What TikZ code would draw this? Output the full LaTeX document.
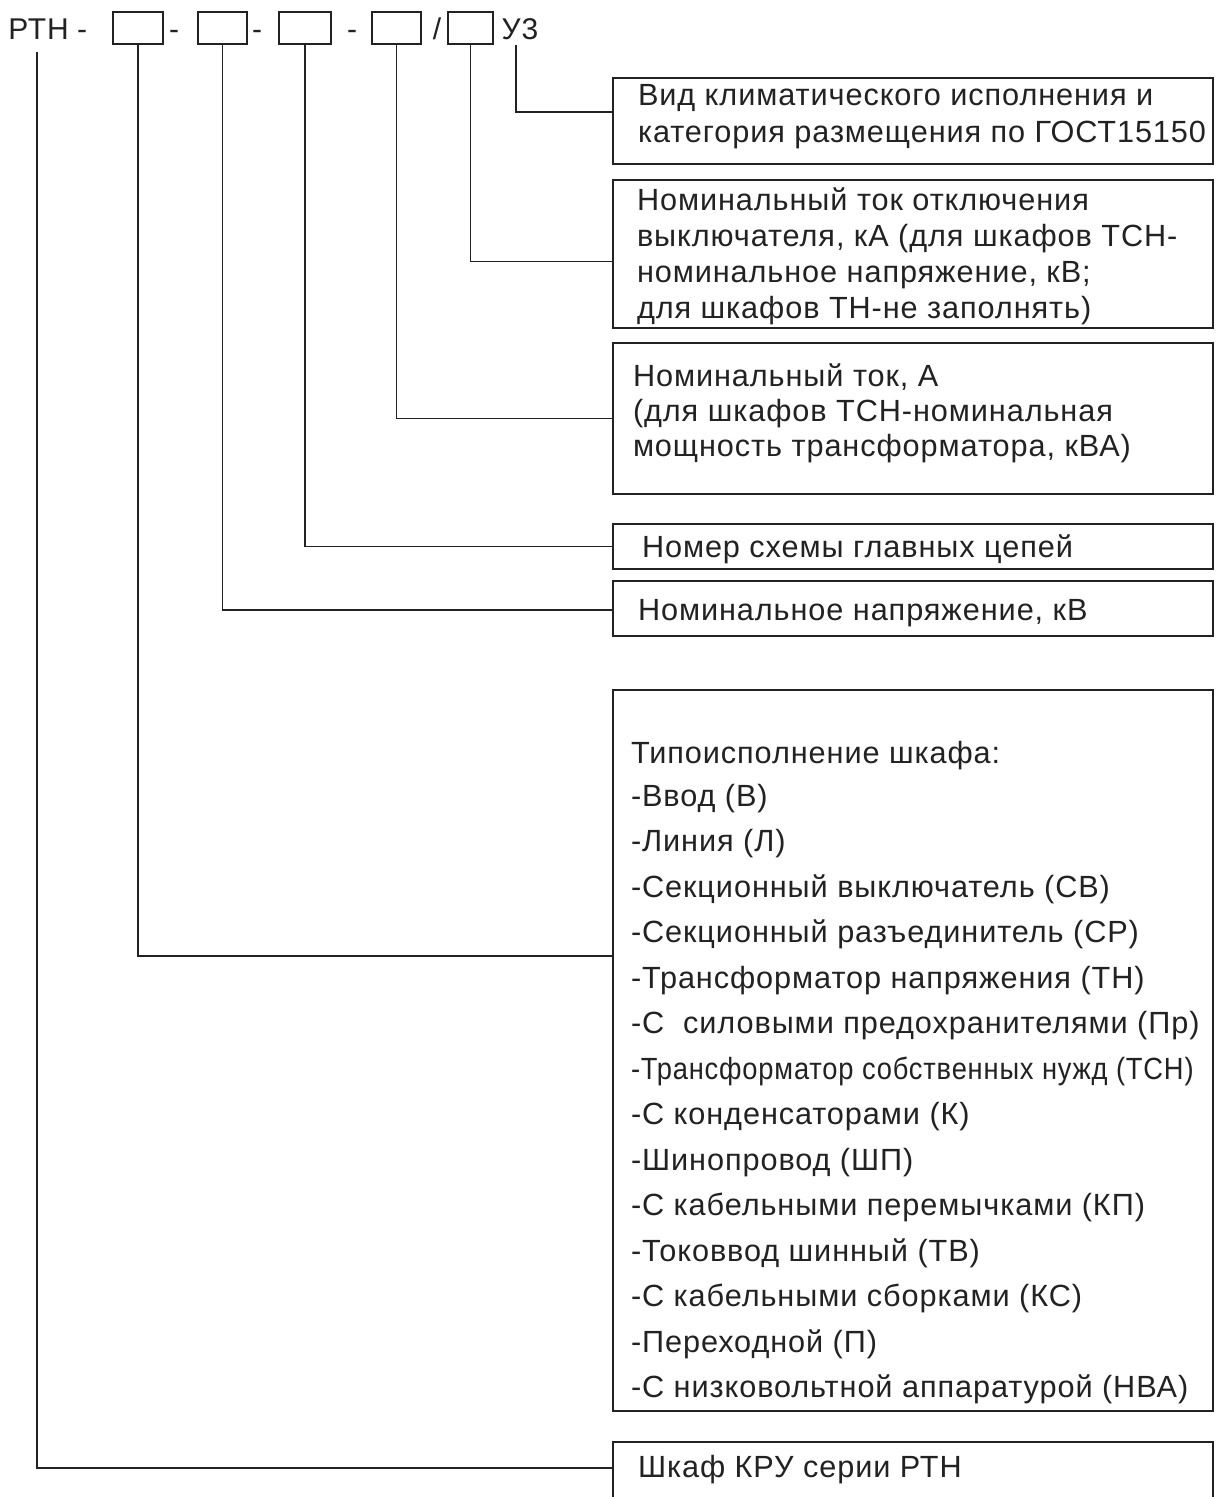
\documentclass[tikz,border=0pt]{standalone}
\usepackage{fontspec}
\usepackage{graphicx}
\setmainfont{Liberation Sans}[LetterSpace=3]
\definecolor{ink}{HTML}{222222}
\begin{document}
\begin{tikzpicture}[x=0.75pt,y=-0.75pt,
  frame/.style={draw=ink, line width=1.3pt, rectangle, inner sep=0pt, outer sep=0pt, anchor=north west, minimum width=450pt},
  hbox/.style={draw=ink, line width=1.3pt, rectangle, inner sep=0pt, outer sep=0pt, anchor=north west, minimum height=24pt},
  txt/.style={inner sep=0pt, outer sep=0pt, anchor=base west, text=ink, font=\fontsize{23pt}{27pt}\selectfont},
  htxt/.style={inner sep=0pt, outer sep=0pt, anchor=base, text=ink, font=\fontsize{22.5pt}{27pt}\selectfont},
  conn/.style={draw=ink, line width=1.3pt}]
\clip (0,0) rectangle (1217,1497);
\fill[white] (0,0) rectangle (1217,1497);

% header
\node[htxt] (rtn) at (38.5,39) {РТН};
\node[htxt] (d1) at (82,39) {-};
\node[hbox, minimum width=37.5pt] (h1) at (113,12) {};
\node[htxt] (d2) at (174,39) {-};
\node[hbox, minimum width=36.75pt] (h2) at (198,12) {};
\node[htxt] (d3) at (257,39) {-};
\node[hbox, minimum width=39pt] (h3) at (279,12) {};
\node[htxt] (d4) at (352,39) {-};
\node[hbox, minimum width=36.75pt] (h4) at (372,12) {};
\node[htxt] (sl) at (437,39) {/};
\node[hbox, minimum width=33.75pt] (h5) at (448,12) {};
\node[htxt] (u3) at (520,39) {У3};

% boxes
\node[frame, minimum height=64.5pt] (b1) at (613,78) {};
\node[frame, minimum height=111pt] (b2) at (613,180) {};
\node[frame, minimum height=113.25pt] (b3) at (613,343) {};
\node[frame, minimum height=33.75pt] (b4) at (613,524) {};
\node[frame, minimum height=41.25pt] (b5) at (613,581) {};
\node[frame, minimum height=540.75pt] (b6) at (613,690) {};
\node[frame, minimum height=58.5pt] (b7) at (613,1442) {};

% texts
\node[txt] (t1a) at (638,105) {Вид климатического исполнения и};
\node[txt] (t1b) at (638,142) {категория размещения по ГОСТ15150};

\node[txt] (t2a) at (637,210) {Номинальный ток отключения};
\node[txt] (t2b) at (637,246) {выключателя, кА (для шкафов ТСН-};
\node[txt] (t2c) at (637,282) {номинальное напряжение, кВ;};
\node[txt] (t2d) at (637,318) {для шкафов ТН-не заполнять)};

\node[txt] (t3a) at (633,386) {Номинальный ток, А};
\node[txt] (t3b) at (633,421) {(для шкафов ТСН-номинальная};
\node[txt] (t3c) at (633,456) {мощность трансформатора, кВА)};

\node[txt] (t4) at (642,557) {Номер схемы главных цепей};
\node[txt] (t5) at (638,620) {Номинальное напряжение, кВ};

\node[txt] (s0) at (631,763) {Типоисполнение шкафа:};
\node[txt] (s1) at (631,806) {-Ввод (В)};
\node[txt] (s2) at (631,851.5) {-Линия (Л)};
\node[txt] (s3) at (631,897) {-Секционный выключатель (СВ)};
\node[txt] (s4) at (631,942.5) {-Секционный разъединитель (СР)};
\node[txt] (s5) at (631,988) {-Трансформатор напряжения (ТН)};
\node[txt] (s6) at (631,1033.5) {-С\ \ силовыми предохранителями (Пр)};
\node[txt] (s7) at (631,1079) {\scalebox{0.89}[1]{-Трансформатор собственных нужд (ТСН)}};
\node[txt] (s8) at (631,1124.5) {-С конденсаторами (К)};
\node[txt] (s9) at (631,1170) {-Шинопровод (ШП)};
\node[txt] (s10) at (631,1215.5) {-С кабельными перемычками (КП)};
\node[txt] (s11) at (631,1261) {-Токоввод шинный (ТВ)};
\node[txt] (s12) at (631,1306.5) {-С кабельными сборками (КС)};
\node[txt] (s13) at (631,1352) {-Переходной (П)};
\node[txt] (s14) at (631,1397.5) {-С низковольтной аппаратурой (НВА)};

\node[txt] (t7) at (638,1477) {Шкаф КРУ серии РТН};

% connectors
\draw[conn] ([xshift=-3pt,yshift=-4.5pt]u3.south) |- ([yshift=6.75pt]b1.west);
\draw[conn] (h5.south) |- ([yshift=-5.6pt]b2.west);
\draw[conn] (h4.south) |- (b3.west);
\draw[conn] (h3.south) |- (b4.west);
\draw[conn] (h2.south) |- ([yshift=-1pt]b5.west);
\draw[conn] (h1.south) |- ([yshift=70.9pt]b6.west);
\draw[conn] ([xshift=-1pt,yshift=-9.75pt]rtn.south) |- ([yshift=9.75pt]b7.west);
\end{tikzpicture}
\end{document}
